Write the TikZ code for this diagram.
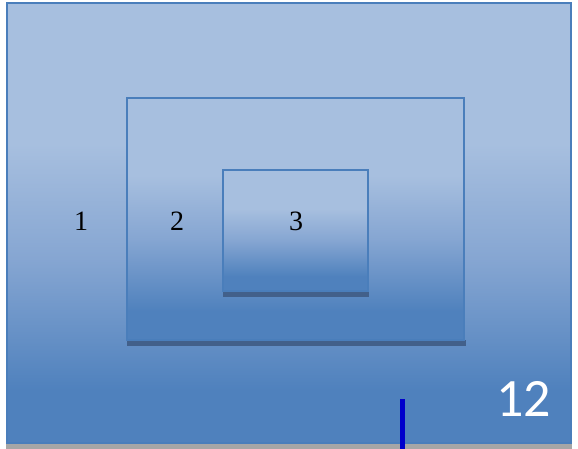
\documentclass[tikz,border=0pt]{standalone}
\usepackage{fontspec}
\setmainfont{Liberation Serif}
\newfontfamily\calib{Carlito}
\definecolor{ltblue}{HTML}{A7BFDF}
\definecolor{mdblue}{HTML}{86A6D2}
\definecolor{dkblue}{HTML}{4F81BD}
\definecolor{edgeblue}{HTML}{4A7EBB}
\definecolor{shadowblue}{HTML}{42608A}
\definecolor{stripgray}{HTML}{A6A6A6}
\definecolor{markblue}{HTML}{0000CC}
\pgfdeclareverticalshading{officeblue}{100bp}{color(0bp)=(dkblue); color(31bp)=(dkblue); color(46bp)=(mdblue); color(59bp)=(ltblue); color(100bp)=(ltblue)}
\tikzset{
  panel/.style={shading=officeblue, draw=edgeblue, line width=1.5pt, inner sep=0pt, outer sep=0pt},
  lbl/.style={font=\fontsize{28}{28}\selectfont, text=black, inner sep=0pt},
  shadowbar/.style={fill=shadowblue, draw=none}
}
\begin{document}
\begin{tikzpicture}[x=1pt,y=-1pt]
\useasboundingbox (0,0) rectangle (578,449);
\fill[white] (0,0) rectangle (578,449);
% gray strip under outer panel
\fill[stripgray] (6,443) rectangle (572,449);
% outer panel
\node[panel, minimum width=564pt, minimum height=440pt] (outer) at (289,223) {};
% middle panel shadow and panel
\fill[shadowbar] (127,340) rectangle (466,346);
\node[panel, minimum width=337pt, minimum height=242pt] (middle) at (295.5,219) {};
% inner panel shadow and panel
\fill[shadowbar] (223,291) rectangle (369,297);
\node[panel, minimum width=145pt, minimum height=121pt] (inner) at (295.5,230.5) {};
% labels
\node[lbl] (l1) at (81,221) {1};
\node[lbl] (l2) at (177,221) {2};
\node[lbl] (l3) at (296,221) {3};
\node[font=\calib\fontsize{54}{54}\selectfont, text=white, inner sep=0pt, anchor=east] (l12) at (551,399) {12};
% blue marker
\coordinate (mtop) at (402.5,399);
\coordinate (mbot) at (402.5,449);
\draw[markblue, line width=5pt] (mtop) -- (mbot);
\end{tikzpicture}
\end{document}
